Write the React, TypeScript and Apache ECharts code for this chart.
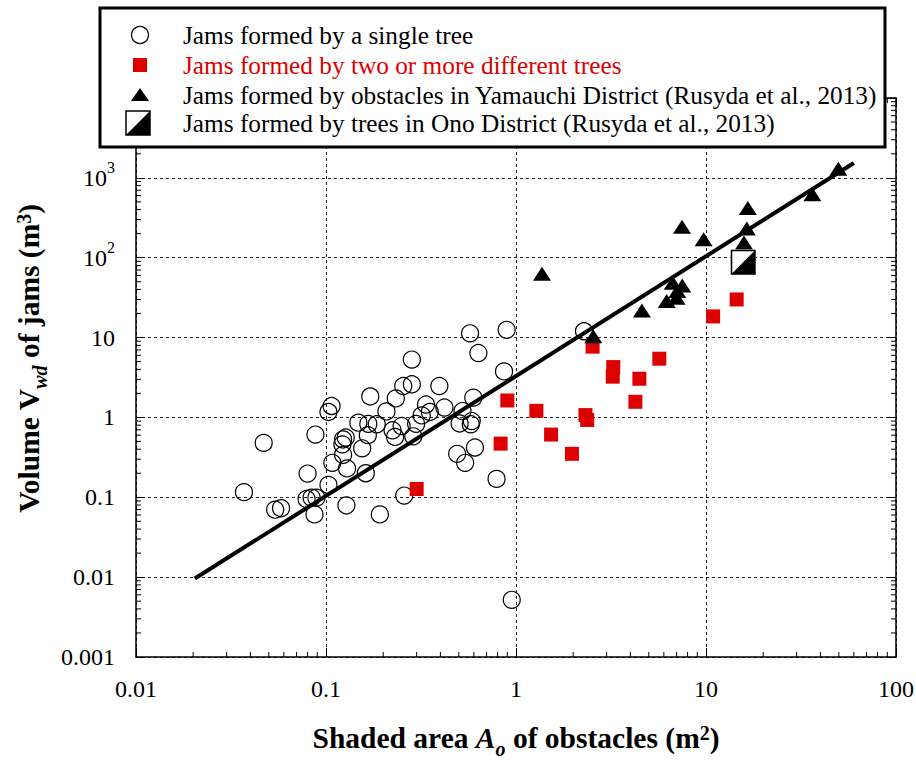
import React, { useEffect, useRef } from 'react';
import * as echarts from 'echarts';

const FONT = 'Liberation Serif';
const RED = '#dd0000';

// Jams formed by a single tree  [A_o (m2), V_wd (m3)]
const singleTree: [number, number][] = [
  [0.047, 0.48], [0.037, 0.116], [0.054, 0.07], [0.058, 0.073], [0.079, 0.095],
  [0.084, 0.099], [0.089, 0.099], [0.087, 0.061], [0.08, 0.198], [0.088, 0.61],
  [0.103, 0.143], [0.107, 1.39], [0.103, 1.17], [0.108, 0.27], [0.123, 0.53],
  [0.122, 0.46], [0.127, 0.56], [0.123, 0.34], [0.129, 0.23], [0.128, 0.079],
  [0.148, 0.86], [0.167, 0.83], [0.185, 0.82], [0.166, 0.6], [0.155, 0.41],
  [0.162, 0.2], [0.171, 1.83], [0.192, 0.061], [0.208, 1.19], [0.224, 0.69],
  [0.231, 0.57], [0.233, 1.73], [0.255, 2.47], [0.283, 2.6], [0.283, 5.3],
  [0.25, 0.78], [0.258, 0.105], [0.288, 0.58], [0.298, 0.83], [0.319, 1.06],
  [0.336, 1.45], [0.352, 1.17], [0.395, 2.47], [0.42, 1.33], [0.49, 0.35],
  [0.505, 0.84], [0.523, 1.2], [0.54, 0.27], [0.573, 11.3], [0.578, 0.82],
  [0.585, 0.9], [0.596, 1.77], [0.608, 0.42], [0.634, 6.4], [0.79, 0.17],
  [0.865, 3.77], [0.893, 12.5], [0.95, 0.0052], [2.28, 12],
];

// Jams formed by two or more different trees
const multiTree: [number, number][] = [
  [0.3, 0.127], [0.83, 0.47], [0.9, 1.63], [1.28, 1.21], [1.53, 0.61],
  [1.97, 0.35], [2.32, 1.07], [2.37, 0.93], [2.53, 7.7], [3.25, 4.27],
  [3.23, 3.24], [4.25, 1.57], [4.46, 3.05], [5.68, 5.44], [10.9, 18.4],
  [14.5, 30],
];

// Jams formed by obstacles in Yamauchi District
const yamauchi: [number, number][] = [
  [1.37, 63], [7.48, 245], [9.72, 170], [16.6, 420], [16.4, 232],
  [15.85, 155], [36.3, 623], [49.7, 1300], [6.68, 48.7], [7.5, 45],
  [7.06, 38.3], [7.0, 31.6], [6.21, 28.7], [4.6, 21.9], [2.55, 10.4],
];

// Jams formed by trees in Ono District
const ono: [number, number][] = [[15.7, 88]];

// Regression line end points
const fitLine: [number, number][] = [[0.0204, 0.0096], [60, 1534]];

const xTickLabels = ['0.01', '0.1', '1', '10', '100'];
const yTickLabels = ['0.001', '0.01', '0.1', '1', '10', '{b|10}{s|2}', '{b|10}{s|3}', ''];
const legendLabels = [
  'Jams formed by a single tree',
  'Jams formed by two or more different trees',
  'Jams formed by obstacles in Yamauchi District (Rusyda et al., 2013)',
  'Jams formed by trees in Ono District (Rusyda et al., 2013)',
];

const X_MIN = 0.01, X_MAX = 100, Y_MIN = 0.001, Y_MAX = 10000;
const xDecades = [0.01, 0.1, 1, 10];
const yDecades = [0.001, 0.01, 0.1, 1, 10, 100, 1000];
const minorMult = [2, 3, 4, 5, 6, 7, 8, 9];
const xMinor = xDecades.flatMap((d) => minorMult.map((m) => d * m));
const yMinor = yDecades.flatMap((d) => minorMult.map((m) => d * m));

const ONO_PATH = 'path://M0,0H24V24H0Z M1.5,1.5V22.5H22.5V1.5Z M24,0V24H0Z';

function buildOption(): any {
  const tickLine = { stroke: '#000', lineWidth: 1 };
  const axisCommon = {
    type: 'log',
    logBase: 10,
    axisLine: { show: true, onZero: false, lineStyle: { color: '#000', width: 1.5 } },
    axisTick: { show: true, inside: true, length: 9, lineStyle: { color: '#000', width: 1 } },
    minorTick: { show: false },
  };
  const titleRich = {
    t: { fontFamily: FONT, fontWeight: 'bold', fontSize: 29.5, lineHeight: 42, color: '#000' },
    ai: { fontFamily: FONT, fontWeight: 'bold', fontStyle: 'italic', fontSize: 29.5, lineHeight: 42, color: '#000' },
    sub: { fontFamily: FONT, fontWeight: 'bold', fontStyle: 'italic', fontSize: 20, lineHeight: 20, verticalAlign: 'bottom', color: '#000' },
    sup: { fontFamily: FONT, fontWeight: 'bold', fontSize: 20, lineHeight: 20, verticalAlign: 'top', padding: [6, 0, 0, 0], color: '#000' },
  };
  const labelRich = {
    p: { fontFamily: FONT, fontSize: 24, color: '#000' },
    b: { fontFamily: FONT, fontSize: 24, lineHeight: 36, color: '#000' },
    s: { fontFamily: FONT, fontSize: 16, lineHeight: 16, verticalAlign: 'top', color: '#000' },
  };
  return {
    animation: false,
    backgroundColor: '#fff',
    textStyle: { fontFamily: FONT },
    grid: {
      left: 136, right: 20, top: 98, bottom: 104,
      containLabel: false, outerBoundsMode: 'none',
    },
    xAxis: [
      {
        ...axisCommon,
        min: X_MIN, max: X_MAX, splitNumber: 4, position: 'bottom',
        axisLabel: {
          margin: 20, fontFamily: FONT, fontSize: 24, color: '#000',
          formatter: (v: number) => '{p|' + (xTickLabels[Math.round(Math.log10(v)) + 2] ?? '') + '}',
          rich: labelRich,
        },
        splitLine: { show: true, lineStyle: { color: '#222', type: [3, 3], width: 1 } },
        name: '{t|Shaded area }{ai|A}{sub|o}{t| of obstacles (m}{sup|2}{t|)}',
        nameLocation: 'middle',
        nameGap: 60,
        nameTextStyle: { fontFamily: FONT, fontWeight: 'bold', fontSize: 29.5, color: '#000', rich: titleRich },
      },
      {
        ...axisCommon,
        min: X_MIN, max: X_MAX, splitNumber: 4, position: 'top',
        axisLabel: { show: false },
        splitLine: { show: false },
      },
    ],
    yAxis: [
      {
        ...axisCommon,
        min: Y_MIN, max: Y_MAX, splitNumber: 7, position: 'left',
        axisLabel: {
          margin: 21, fontFamily: FONT, fontSize: 24, color: '#000',
          formatter: (v: number) => {
            const l = yTickLabels[Math.round(Math.log10(v)) + 3] ?? '';
            return l === '' || l.startsWith('{') ? l : '{p|' + l + '}';
          },
          rich: labelRich,
        },
        splitLine: { show: true, lineStyle: { color: '#222', type: [3, 3], width: 1 } },
        name: '{t|Volume V}{sub|wd}{t| of jams (m}{sup|3}{t|)}',
        nameLocation: 'middle',
        nameGap: 80,
        nameTextStyle: {
          fontFamily: FONT, fontWeight: 'bold', fontSize: 29.5, color: '#000',
          padding: [0, 0, 0, 38],
          rich: titleRich,
        },
      },
      {
        ...axisCommon,
        min: Y_MIN, max: Y_MAX, splitNumber: 7, position: 'right',
        axisLabel: { show: false },
        splitLine: { show: false },
      },
    ],
    series: [
      {
        name: legendLabels[0], type: 'scatter', data: singleTree, symbol: 'circle', symbolSize: 17,
        itemStyle: { color: 'rgba(255,255,255,0)', borderColor: '#000', borderWidth: 1.2, opacity: 1 },
        z: 3, silent: true,
      },
      {
        name: 'fit', type: 'line', data: fitLine, symbol: 'none', z: 4, silent: true,
        lineStyle: { color: '#000', width: 4 },
      },
      {
        name: legendLabels[1], type: 'scatter', data: multiTree, symbol: 'rect', symbolSize: 14,
        itemStyle: { color: RED, opacity: 1 }, z: 5, silent: true,
      },
      {
        name: legendLabels[2], type: 'scatter', data: yamauchi, symbol: 'triangle', symbolSize: [18, 14],
        itemStyle: { color: '#000', opacity: 1 }, z: 5, silent: true,
      },
      {
        name: 'onoBg', type: 'scatter', data: ono, symbol: 'rect', symbolSize: 25,
        itemStyle: { color: '#fff', opacity: 1 }, z: 6, silent: true,
      },
      {
        name: legendLabels[3], type: 'scatter', data: ono, symbol: ONO_PATH, symbolSize: 25,
        itemStyle: { color: '#000', opacity: 1 }, z: 7, silent: true,
      },
      {
        name: 'xMinorTicks', type: 'custom', silent: true, clip: false, z: 8,
        data: xMinor.map((v) => [v, Y_MIN]),
        renderItem: (params: any, api: any) => {
          const cs = params.coordSys;
          const x = api.coord([api.value(0), Y_MIN])[0];
          const b = cs.y + cs.height;
          return {
            type: 'group',
            children: [
              { type: 'line', shape: { x1: x, y1: b, x2: x, y2: b - 5 }, style: tickLine },
              { type: 'line', shape: { x1: x, y1: cs.y, x2: x, y2: cs.y + 5 }, style: tickLine },
            ],
          };
        },
      },
      {
        name: 'yMinorTicks', type: 'custom', silent: true, clip: false, z: 8,
        data: yMinor.map((v) => [X_MIN, v]),
        renderItem: (params: any, api: any) => {
          const cs = params.coordSys;
          const y = api.coord([X_MIN, api.value(1)])[1];
          const r = cs.x + cs.width;
          return {
            type: 'group',
            children: [
              { type: 'line', shape: { x1: cs.x, y1: y, x2: cs.x + 5, y2: y }, style: tickLine },
              { type: 'line', shape: { x1: r, y1: y, x2: r - 5, y2: y }, style: tickLine },
            ],
          };
        },
      },
    ],
    graphic: [
      { type: 'rect', z: 100, shape: { x: 100, y: 8, width: 785, height: 139 }, style: { fill: '#fff', stroke: '#000', lineWidth: 3 } },
      { type: 'circle', z: 101, shape: { cx: 140, cy: 35, r: 8.5 }, style: { fill: 'none', stroke: '#000', lineWidth: 1.2 } },
      { type: 'rect', z: 101, shape: { x: 133, y: 58, width: 14, height: 14 }, style: { fill: RED } },
      { type: 'polygon', z: 101, shape: { points: [[131, 101], [149, 101], [140, 88]] }, style: { fill: '#000' } },
      { type: 'rect', z: 101, shape: { x: 126, y: 111, width: 24, height: 24 }, style: { fill: '#fff', stroke: '#000', lineWidth: 1.5 } },
      { type: 'polygon', z: 102, shape: { points: [[150, 111], [150, 135], [126, 135]] }, style: { fill: '#000' } },
      ...legendLabels.map((t, i) => ({
        type: 'text',
        z: 102,
        x: 183,
        y: [35, 65, 95, 123][i],
        style: {
          text: t, fontFamily: FONT, fontSize: 25.3, fill: i === 1 ? RED : '#000',
          align: 'left', verticalAlign: 'middle',
        },
      })),
    ],
  };
}

export default function App() {
  const ref = useRef<HTMLDivElement>(null);
  useEffect(() => {
    if (!ref.current) return;
    const chart = echarts.init(ref.current, null, { renderer: 'svg' });
    chart.setOption(buildOption());
    return () => chart.dispose();
  }, []);
  return (
    <div
      ref={ref}
      style={{ position: 'fixed', left: 0, top: 0, width: 916, height: 761, background: '#fff' }}
    />
  );
}
